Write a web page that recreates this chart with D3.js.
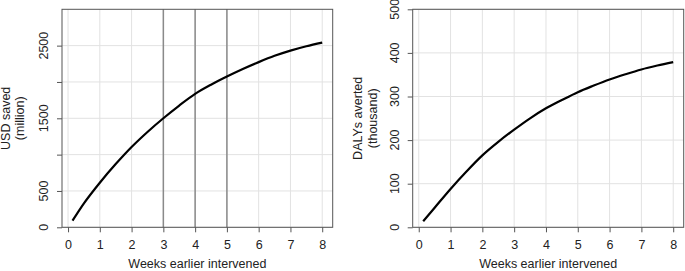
<!DOCTYPE html>
<html>
<head>
<meta charset="utf-8">
<script src="https://cdn.jsdelivr.net/npm/d3@7"></script>
<style>
  body { margin: 0; background: #fff; }
  svg text { font-family: "Liberation Sans", Arial, sans-serif; fill: #222; }
</style>
</head>
<body>
<div id="chart"></div>
<script>
// weeks earlier intervened
const weeks = [0.14, 0.5, 1, 1.5, 2, 2.5, 3, 3.5, 4, 4.5, 5, 5.5, 6, 6.5, 7, 7.5, 8];
// USD saved (million)
const usdSaved = [91, 330, 614, 870, 1105, 1312, 1501, 1676, 1836, 1962, 2074, 2178, 2273, 2360, 2432, 2492, 2542];
// DALYs averted (thousand)
const dalys = [14, 45, 88, 128, 165, 196, 224, 250, 273, 292, 310, 325, 339, 351, 362, 371, 379];

const xTicks = [0, 1, 2, 3, 4, 5, 6, 7, 8];
const usdTicks = [0, 500, 1000, 1500, 2000, 2500];
const usdLabels = [0, 500, 1500, 2500];
const dalyTicks = [0, 100, 200, 300, 400, 500];
const markedWeeks = [3, 4, 5];

const svg = d3.select("#chart").append("svg")
    .attr("width", 685)
    .attr("height", 271);

function panel(opts) {
  const left = opts.left, right = opts.right, top = 9.3, bottom = 227.3;

  const x = d3.scaleLinear().domain([-0.19, 8.33]).range([left, right]);
  const y = d3.scaleLinear().domain(opts.yDomain).range([bottom, top]);

  const g = svg.append("g");

  // grid
  g.append("g").selectAll("line")
      .data(xTicks)
      .enter().append("line")
      .attr("x1", d => x(d)).attr("x2", d => x(d))
      .attr("y1", top).attr("y2", bottom)
      .attr("stroke", "#e2e2e2").attr("stroke-width", 1);
  g.append("g").selectAll("line")
      .data(opts.yTicks)
      .enter().append("line")
      .attr("x1", left).attr("x2", right)
      .attr("y1", d => y(d)).attr("y2", d => y(d))
      .attr("stroke", "#e2e2e2").attr("stroke-width", 1);

  // vertical marker lines
  g.append("g").selectAll("line")
      .data(opts.markers || [])
      .enter().append("line")
      .attr("x1", d => x(d)).attr("x2", d => x(d))
      .attr("y1", top).attr("y2", bottom)
      .attr("stroke", "#8a8a8a").attr("stroke-width", 1.5);

  // curve
  const line = d3.line()
      .x((d, i) => x(weeks[i]))
      .y(d => y(d))
      .curve(d3.curveMonotoneX);
  g.append("path")
      .datum(opts.values)
      .attr("d", line)
      .attr("fill", "none")
      .attr("stroke", "#000")
      .attr("stroke-width", 2.2);

  // box
  g.append("rect")
      .attr("x", left).attr("y", top)
      .attr("width", right - left).attr("height", bottom - top)
      .attr("fill", "none").attr("stroke", "#555").attr("stroke-width", 1);

  // x axis
  const xAxis = g.append("g")
      .attr("transform", "translate(0," + bottom + ")")
      .call(d3.axisBottom(x).tickValues(xTicks).tickSize(5).tickPadding(8).tickFormat(d3.format("d")));
  xAxis.select(".domain").remove();
  xAxis.selectAll(".tick line").attr("stroke", "#555");
  xAxis.selectAll("text").attr("font-size", 12.5).style("font-family", "Liberation Sans, Arial, sans-serif");

  // y axis
  const yAxis = g.append("g")
      .attr("transform", "translate(" + left + ",0)")
      .call(d3.axisLeft(y).tickValues(opts.yTicks).tickSize(5).tickFormat(""));
  yAxis.select(".domain").remove();
  yAxis.selectAll(".tick line").attr("stroke", "#555");

  g.append("g").selectAll("text")
      .data(opts.yLabels)
      .enter().append("text")
      .attr("transform", d => "translate(" + (left - 14) + "," + y(d) + ") rotate(-90)")
      .attr("text-anchor", "middle")
      .attr("font-size", 12.5)
      .text(d => d);

  // titles
  g.append("text")
      .attr("x", (left + right) / 2).attr("y", 267.5)
      .attr("text-anchor", "middle")
      .attr("font-size", 12.5)
      .text("Weeks earlier intervened");

  const ym = (top + bottom) / 2;
  opts.yTitle.forEach((t, i) => {
    g.append("text")
        .attr("transform", "translate(" + (opts.titleX + i * opts.titleGap) + "," + ym + ") rotate(-90)")
        .attr("text-anchor", "middle")
        .attr("font-size", 12.5)
        .text(t);
  });
}

panel({
  left: 62, right: 332.7,
  yDomain: [0, 3000],
  yTicks: usdTicks,
  yLabels: usdLabels,
  values: usdSaved,
  markers: markedWeeks,
  yTitle: ["USD saved", "(million)"],
  titleX: 10,
  titleGap: 14
});

panel({
  left: 412.7, right: 683.7,
  yDomain: [0, 500],
  yTicks: dalyTicks,
  yLabels: dalyTicks,
  values: dalys,
  yTitle: ["DALYs averted", "(thousand)"],
  titleX: 362,
  titleGap: 15
});
</script>
</body>
</html>
